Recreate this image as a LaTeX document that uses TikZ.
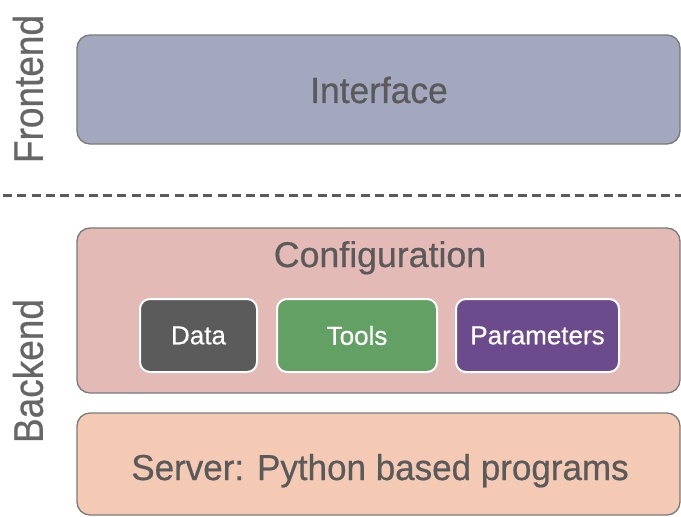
\documentclass[tikz,border=0pt]{standalone}
\usepackage{fontspec}
\setmainfont{Liberation Sans}[FakeBold=0.6]
\usepackage{graphicx}
\definecolor{txtgray}{HTML}{5A5A5A}
\definecolor{lblgray}{HTML}{666666}
\definecolor{ifill}{HTML}{A3A8BF}
\definecolor{cfill}{HTML}{E3BAB5}
\definecolor{sfill}{HTML}{F5CAB5}
\definecolor{dfill}{HTML}{5B5B5B}
\definecolor{tfill}{HTML}{62A064}
\definecolor{pfill}{HTML}{6C4B8C}
\definecolor{edgegray}{HTML}{7A7A7A}
\begin{document}
\begin{tikzpicture}[x=1pt,y=-1pt,
  layerbox/.style={draw=edgegray, line width=1.3pt, rounded corners=13pt},
  innerbox/.style={draw=white, line width=2pt, rounded corners=10pt, minimum height=73pt, inner sep=0pt, text=white, font=\fontsize{26}{30}\selectfont},
  bigtext/.style={text=txtgray, inner sep=0pt},
  sidelabel/.style={text=lblgray, rotate=90, inner sep=0pt, font=\fontsize{37}{40}\selectfont}]
\useasboundingbox (0,0) rectangle (681,517);
% layers
\draw[layerbox, fill=ifill] (77,35) rectangle (680,144);
\node[bigtext, font=\fontsize{35}{40}\selectfont] (iface) at (379,90) {\scalebox{1.01}[1.04]{Interface}};
\draw[layerbox, fill=cfill] (77,228) rectangle (680,393);
\node[bigtext, font=\fontsize{35}{40}\selectfont, anchor=base] (conf) at (380,267) {\scalebox{1.02}[1.02]{Configuration}};
\draw[layerbox, fill=sfill] (77,413) rectangle (680,515);
\node[bigtext, font=\fontsize{35}{40}\selectfont, anchor=base] (server) at (380,480) {\scalebox{1.0}[1.03]{Server: Python based programs}};
% inner boxes
\node[innerbox, fill=dfill, minimum width=117pt] (data) at (198.5,335.5) {Data};
\node[innerbox, fill=tfill, minimum width=160pt] (tools) at (357,335.5) {Tools};
\node[innerbox, fill=pfill, minimum width=163pt] (params) at (537.5,335.5) {Parameters};
% side labels
\node[sidelabel] (front) at (28,89) {\scalebox{1}[1.12]{Frontend}};
\node[sidelabel] (back) at (28,371) {\scalebox{1}[1.12]{Backend}};
% divider
\coordinate (dl) at (3,195);
\coordinate (dr) at (681,195);
\draw[txtgray, line width=3pt, dash pattern=on 9pt off 5.3pt] (dl) -- (dr);
\end{tikzpicture}
\end{document}
